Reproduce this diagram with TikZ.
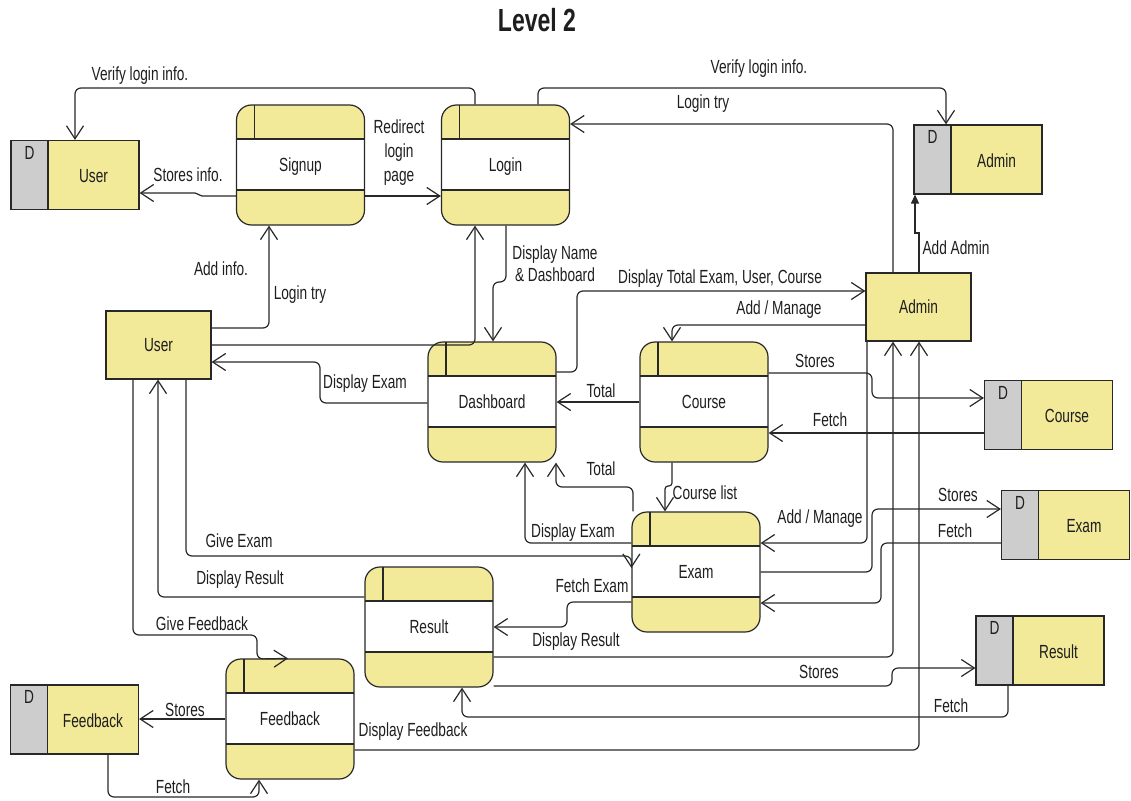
\documentclass[tikz,border=0pt]{standalone}
\usepackage{fontspec}
\setmainfont{Liberation Sans}[FakeStretch=0.72]
\usetikzlibrary{arrows.meta}
\definecolor{yel}{RGB}{242,233,153}
\definecolor{dgray}{RGB}{205,205,205}
\definecolor{ln}{RGB}{40,40,40}
\definecolor{txt}{RGB}{30,30,30}
\begin{document}
\begin{tikzpicture}[x=1pt,y=-1pt,
  every node/.style={font=\fontsize{19}{22}\selectfont, text=txt},
  lbl/.style={inner sep=0pt, align=center, text depth=0pt},
  proc/.style={draw=ln, line width=1.2pt, fill=yel, rounded corners=15pt,
    minimum width=128pt, minimum height=120pt, inner sep=0pt, text depth=0pt,
    path picture={
      \fill[white, sharp corners] ([yshift=-34pt]path picture bounding box.north west) rectangle ([yshift=35pt]path picture bounding box.south east);
      \draw[ln, line width=1.2pt] ([yshift=-34pt]path picture bounding box.north west) -- ([yshift=-34pt]path picture bounding box.north east);
      \draw[ln, line width=1.2pt] ([yshift=35pt]path picture bounding box.south west) -- ([yshift=35pt]path picture bounding box.south east);
      \draw[ln, line width=1.2pt] ([xshift=18pt]path picture bounding box.north west) -- ([xshift=18pt,yshift=-34pt]path picture bounding box.north west);
    }},
  ent/.style={draw=ln, line width=1.2pt, fill=yel, minimum width=105pt, minimum height=68pt, inner sep=0pt, text depth=0pt},
  store/.style={draw=ln, line width=1.2pt, fill=yel, minimum width=128pt, minimum height=69pt, inner sep=0pt,
    path picture={
      \fill[dgray] (path picture bounding box.north west) rectangle ([xshift=37pt]path picture bounding box.south west);
      \draw[ln, line width=1.2pt] ([xshift=37pt]path picture bounding box.north west) -- ([xshift=37pt]path picture bounding box.south west);
      \node[inner sep=0pt, text depth=0pt] at ([xshift=18.5pt,yshift=-12pt]path picture bounding box.north west) {D};
      \node[inner sep=0pt, text depth=0pt] at ([xshift=18.5pt,yshift=-1pt]path picture bounding box.center) {#1};
    }},
  flow/.style={draw=ln, line width=1.2pt, rounded corners=6pt, -{Straight Barb[length=13pt, width=17pt]}},
  flowfill/.style={draw=ln, line width=1.2pt, -{Triangle[length=9pt, width=8pt]}}
]
\useasboundingbox (0,0) rectangle (1131,800);

\node[font=\fontsize{32}{36}\selectfont\bfseries] (title) at (537,20) {Level 2};

% data stores
\node[store=User] (ustore) at (75,175) {};
\node[store=Admin] (astore) at (978,159.5) {};
\node[store=Course] (cstore) at (1048.5,415) {};
\node[store=Exam] (estore) at (1065.5,525) {};
\node[store=Result] (rstore) at (1040,650.5) {};
\node[store=Feedback] (fstore) at (74.5,719.5) {};

% external entities
\node[ent] (user) at (158.5,345) {User};
\node[ent] (admin) at (918.5,307) {Admin};

% processes
\node[proc] (signup) at (300.5,165) {Signup};
\node[proc] (login) at (505.5,165) {Login};
\node[proc] (dashboard) at (492,402) {Dashboard};
\node[proc] (course) at (704,402) {Course};
\node[proc] (exam) at (696,572) {Exam};
\node[proc] (result) at (429,627) {Result};
\node[proc] (feedback) at (290,719) {Feedback};

% connectors
\draw[flow] (login.north -| 475,0) |- (75,88) -- (ustore.north -| 75,0);
\draw[flow] (login.north -| 538,0) |- (946,88) -- (astore.north -| 946,0);
\draw[flow] (admin.north -| 893,0) |- (login.east |- 0,124);
\draw[flowfill] (admin.north -| 919,0) -- (919,233) -- (915,233) -- (astore.south -| 915,0);
\draw[flow, rounded corners=2pt] (signup.west |- 0,196) -- (200,196) -- (197,193) -- (ustore.east |- 0,193);
\draw[flow] (signup.east |- 0,196) -- (login.west |- 0,196);
\draw[flow] (user.east |- 0,328) -| (signup.south -| 269,0);
\draw[flow] (user.east |- 0,345) -| (login.south -| 475,0);
\draw[flow] (login.south -| 506,0) |- (493,282) -- (dashboard.north -| 493,0);
\draw[flow] (dashboard.west |- 0,403) -| (320,362) -- (user.east |- 0,362);
\draw[flow] (dashboard.east |- 0,372) -| (577,291) -- (admin.west |- 0,291);
\draw[flow] (admin.west |- 0,325) -| (course.north -| 672,0);
\draw[flow] (course.west |- 0,402) -- (dashboard.east |- 0,402);
\draw[flow] (course.east |- 0,373) -| (872,398) -- (cstore.west |- 0,398);
\draw[flow] (cstore.west |- 0,433) -- (course.east |- 0,433);
\draw[flow] (exam.north -| 633,0) |- (556,487) -- (dashboard.south -| 556,0);
\draw[flow] (exam.west |- 0,543) -| (dashboard.south -| 525,0);
\draw[flow, rounded corners=3pt] (course.south -| 672,0) |- (665,486) -- (exam.north -| 665,0);
\draw[flow] (user.south -| 186,0) |- (exam.west |- 0,556) -- (exam.west |- 0,568);
\draw[flow] (result.west |- 0,597) -| (user.south -| 158,0);
\draw[flow] (user.south -| 133,0) |- (257,635) -- (257,659) -- (feedback.north -| 288,0);
\draw[flow] (feedback.west |- 0,719) -- (fstore.east |- 0,719);
\draw[flow] (fstore.south -| 108,0) |- (259,797) -- (feedback.south -| 259,0);
\draw[flow] (feedback.east |- 0,750) -| (admin.south -| 919,0);
\draw[flow] (result.east |- 0,657) -| (admin.south -| 893,0);
\draw[flow] (result.east |- 0,686) -| (892,668) -- (rstore.west |- 0,668);
\draw[flow] (rstore.south -| 1008,0) |- (462,717) -- (result.south -| 462,0);
\draw[flow] (admin.south -| 867,0) |- (exam.east |- 0,543);
\draw[flow] (exam.east |- 0,572) -| (872,509) -- (estore.west |- 0,509);
\draw[flow] (estore.west |- 0,543) -| (881,603) -- (exam.east |- 0,603);
\draw[flow] (exam.west |- 0,602) -| (567,627) -- (result.east |- 0,627);

% labels
\node[lbl] (l1) at (140,74) {Verify login info.};
\node[lbl] (l2) at (759,67) {Verify login info.};
\node[lbl] (l3) at (703,102) {Login try};
\node[lbl] (l4) at (188,175) {Stores info.};
\node[lbl, font=\fontsize{19}{24}\selectfont] (l5) at (399,151) {Redirect\\login\\page};
\node[lbl] (l6) at (221,269) {Add info.};
\node[lbl] (l7) at (300,293) {Login try};
\node[lbl] (l8) at (555,264) {Display Name\\\& Dashboard};
\node[lbl] (l9) at (720,277) {Display Total Exam, User, Course};
\node[lbl] (l10) at (779,308) {Add / Manage};
\node[lbl] (l11) at (956,248) {Add Admin};
\node[lbl] (l12) at (365,382) {Display Exam};
\node[lbl] (l13) at (601,391) {Total};
\node[lbl] (l14) at (815,361) {Stores};
\node[lbl] (l15) at (830,420) {Fetch};
\node[lbl] (l16) at (601,469) {Total};
\node[lbl] (l17) at (705,493) {Course list};
\node[lbl] (l18) at (573,531) {Display Exam};
\node[lbl] (l19) at (820,517) {Add / Manage};
\node[lbl] (l20) at (958,495) {Stores};
\node[lbl] (l21) at (955,531) {Fetch};
\node[lbl] (l22) at (239,541) {Give Exam};
\node[lbl] (l23) at (240,578) {Display Result};
\node[lbl] (l24) at (592,586) {Fetch Exam};
\node[lbl] (l25) at (576,640) {Display Result};
\node[lbl] (l26) at (202,624) {Give Feedback};
\node[lbl] (l27) at (819,672) {Stores};
\node[lbl] (l28) at (951,706) {Fetch};
\node[lbl] (l29) at (185,710) {Stores};
\node[lbl] (l30) at (413,730) {Display Feedback};
\node[lbl] (l31) at (173,787) {Fetch};
\end{tikzpicture}
\end{document}
